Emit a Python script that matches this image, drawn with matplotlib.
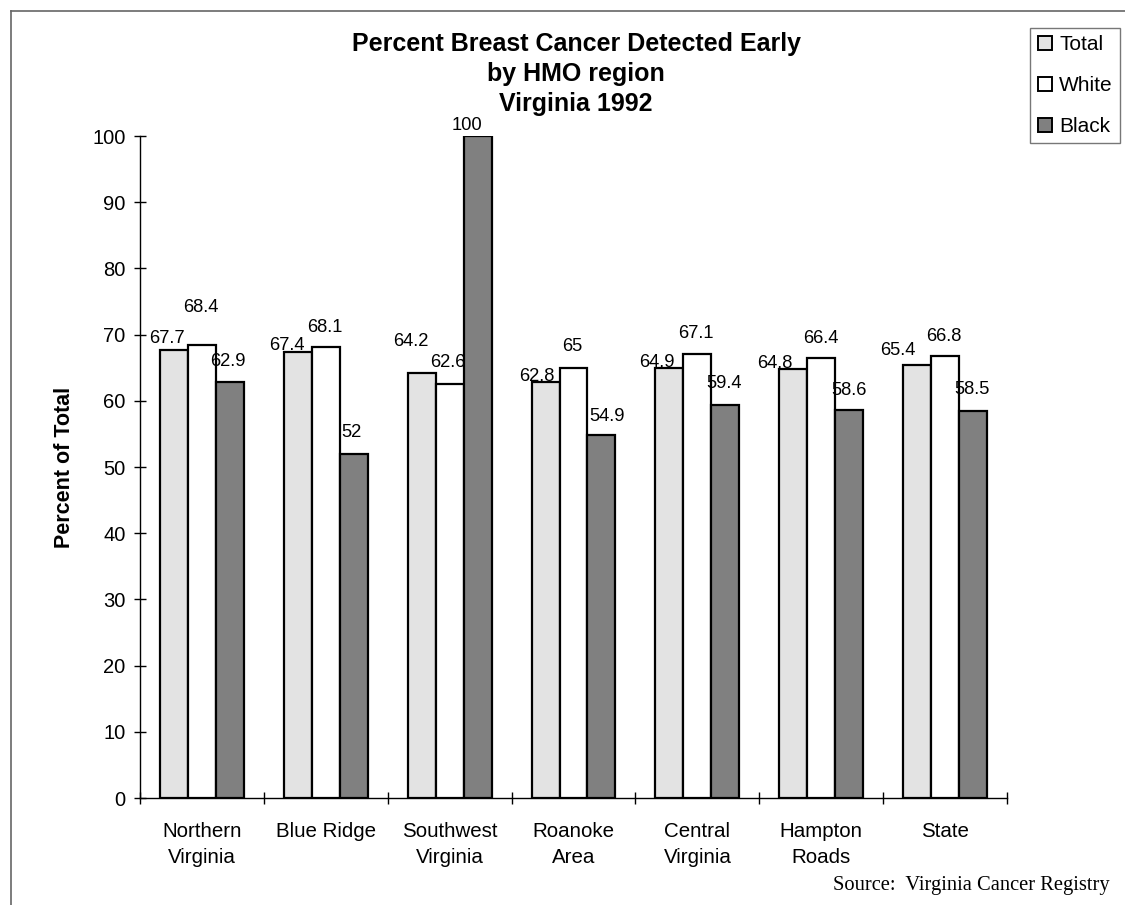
import numpy as np
import matplotlib
matplotlib.use("Agg")
import matplotlib.pyplot as plt
from matplotlib.lines import Line2D
from matplotlib.patches import Patch

# Data: percent of breast cancer cases detected early, by HMO region
regions = ["Northern\nVirginia", "Blue Ridge", "Southwest\nVirginia", "Roanoke\nArea",
           "Central\nVirginia", "Hampton\nRoads", "State"]
total = [67.7, 67.4, 64.2, 62.8, 64.9, 64.8, 65.4]
white = [68.4, 68.1, 62.6, 65.0, 67.1, 66.4, 66.8]
black = [62.9, 52.0, 100.0, 54.9, 59.4, 58.6, 58.5]
series_names = ["Total", "White", "Black"]
yticks = [0, 10, 20, 30, 40, 50, 60, 70, 80, 90, 100]

# Value-label nudges (pixels): horizontal shift and height of label centre above bar top
total_dx = [-7, -11, -11, -9, -12, -18, -19]
total_dy = [11, 6, 31, 6, 6, 6, 15]
white_dx = [-1, -1, -2, -1, -1, 0, -1]
white_dy = [38, 20, 21, 21, 20, 20, 19]
black_dx = [-2, -2, -11, 6, -1, 0, -1]
black_dy = [20, 21, 11, 18, 21, 20, 21]

colors = ["#e3e3e3", "#ffffff", "#808080"]
W, H = 1125, 905
plt.rcParams["font.family"] = ["Liberation Sans", "DejaVu Sans"]

fig = plt.figure(figsize=(W / 100, H / 100), dpi=100)
fig.patch.set_facecolor("white")
ax = fig.add_axes([140 / W, 1 - 798 / H, (1007 - 140) / W, (798 - 136) / H])

x = np.arange(len(regions))
bw = 0.226
series = [total, white, black]
offsets = [-bw, 0.0, bw]
dxs = [total_dx, white_dx, black_dx]
dys = [total_dy, white_dy, black_dy]

for vals, off, col, name, dx, dy in zip(series, offsets, colors, series_names, dxs, dys):
    bars = ax.bar(x + off, vals, width=bw, color=col, edgecolor="black",
                  linewidth=1.6, label=name, zorder=2)
    for b, v, ddx, ddy in zip(bars, vals, dx, dy):
        txt = f"{v:g}"
        ax.annotate(txt, (b.get_x() + b.get_width() / 2, v),
                    xytext=(ddx, ddy), textcoords="offset pixels",
                    ha="center", va="center", fontsize=13.2, zorder=3,
                    annotation_clip=False)

ax.set_xlim(-0.5, len(regions) - 0.5)
ax.set_ylim(0, 100)
ax.set_yticks(yticks)
ax.tick_params(axis="y", direction="inout", length=9, width=1, labelsize=14.5, pad=6)
ax.set_xticks(x)
ax.set_xticklabels(regions)
ax.set_xticks(np.arange(len(regions) + 1) - 0.5, minor=True)
ax.tick_params(axis="x", which="major", length=0, labelsize=14.8, pad=17)
ax.tick_params(axis="x", which="minor", direction="inout", length=9, width=1)
for lbl in ax.get_xticklabels():
    lbl.set_linespacing(1.5)

for side in ["top", "right"]:
    ax.spines[side].set_visible(False)
for side in ["left", "bottom"]:
    ax.spines[side].set_linewidth(1)
    ax.spines[side].set_color("black")

ax.set_ylabel("Percent of Total", fontsize=15.5, fontweight="bold")
ax.yaxis.set_label_coords((75 - 140) / (1007 - 140), 0.5)

fig.text(576 / W, 1 - 74 / H,
         "Percent Breast Cancer Detected Early\nby HMO region\nVirginia 1992",
         ha="center", va="center", fontsize=18, fontweight="bold", linespacing=1.3)

handles = [Patch(facecolor=c, edgecolor="black", linewidth=1.4) for c in colors]
leg = fig.legend(handles, series_names, loc="upper right",
                 bbox_to_anchor=(1120 / W, 1 - 28 / H), fontsize=15,
                 frameon=True, fancybox=False, edgecolor="#555555",
                 handlelength=0.68, handleheight=0.68, handletextpad=0.35,
                 labelspacing=1.05, borderpad=0.35, borderaxespad=0)
leg.get_frame().set_linewidth(1)

fig.text(1110 / W, 1 - 885 / H, "Source:  Virginia Cancer Registry",
         ha="right", va="center", fontsize=14.8, family=["Liberation Serif", "DejaVu Serif"])

# Outer chart frame along the top and left edges
fig.add_artist(Line2D([11 / W, 1], [1 - 11 / H, 1 - 11 / H], color="#666666", linewidth=1.2))
fig.add_artist(Line2D([11 / W, 11 / W], [0, 1 - 11 / H], color="#666666", linewidth=1.2))

fig.savefig("out.png", dpi=100, facecolor="white")
